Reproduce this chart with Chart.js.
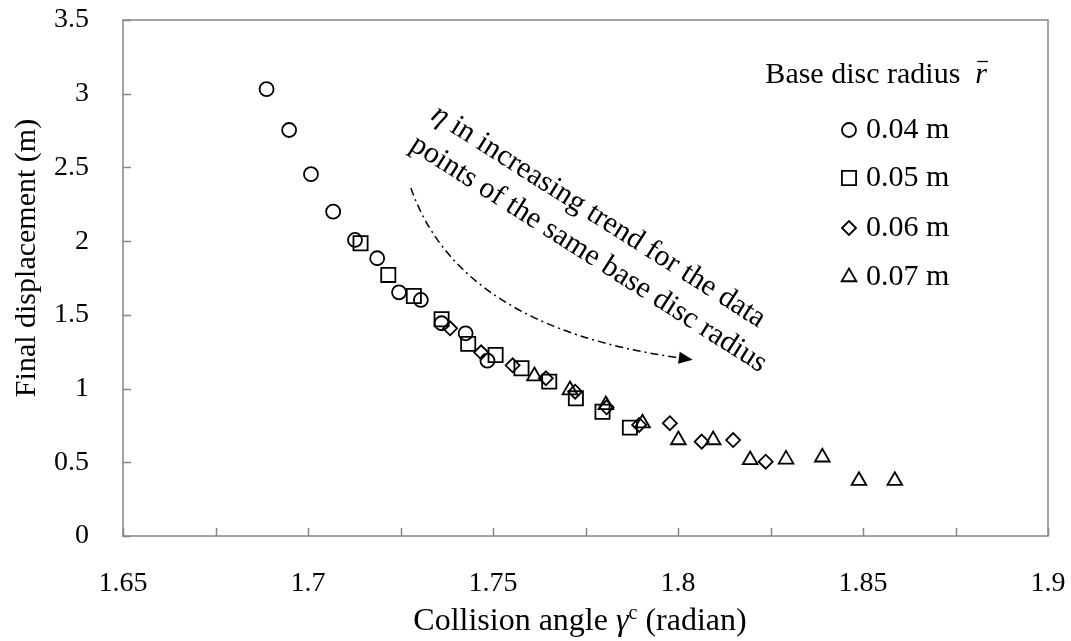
<!DOCTYPE html>
<html>
<head>
<meta charset="utf-8">
<title>Final displacement vs collision angle</title>
<script src="https://cdn.jsdelivr.net/npm/chart.js@4.4.1/dist/chart.umd.min.js"></script>
<style>
  html, body { margin: 0; padding: 0; background: #fff; }
</style>
</head>
<body>
<canvas id="scatterChart" width="1071" height="641"></canvas>
<script>
// ---------- Data ----------
const seriesLabels = ['0.04 m', '0.05 m', '0.06 m', '0.07 m']

const angle004 = [1.6888, 1.6949, 1.7008, 1.7068, 1.7127, 1.7187, 1.7246, 1.7305, 1.7361, 1.7426, 1.7485]
const disp004 = [3.031, 2.754, 2.454, 2.200, 2.008, 1.884, 1.653, 1.601, 1.443, 1.375, 1.189]

const angle005 = [1.7142, 1.7217, 1.7286, 1.7361, 1.7433, 1.7507, 1.7577, 1.7652, 1.7724, 1.7796, 1.7870]
const disp005 = [1.986, 1.771, 1.628, 1.470, 1.303, 1.228, 1.138, 1.047, 0.934, 0.843, 0.735]

const angle006 = [1.7384, 1.7468, 1.7553, 1.7643, 1.7722, 1.7807, 1.7895, 1.7978, 1.8064, 1.8149, 1.8237]
const disp006 = [1.409, 1.246, 1.158, 1.070, 0.979, 0.873, 0.753, 0.765, 0.640, 0.651, 0.504]

const angle007 = [1.7612, 1.7708, 1.7805, 1.7904, 1.8001, 1.8095, 1.8195, 1.8292, 1.8390, 1.8489, 1.8586]
const disp007 = [1.085, 0.990, 0.889, 0.765, 0.651, 0.651, 0.516, 0.520, 0.534, 0.375, 0.375]

const xTickStep = 0.025
const xLabelStep = 0.05
const yTickStep = 0.5

// ---------- Styles ----------
const serif = '"Liberation Serif", "Times New Roman", serif'
const tickSize = 28
const textSize = 30
const xTitleSize = 32
const axisGray = '#878787'
const markerStyles = [
    {pointStyle: 'circle', radius: 7},
    {pointStyle: 'rect', radius: 10},
    {pointStyle: 'rectRot', radius: 7},
    {pointStyle: 'triangle', radius: 8.5}
]

const toPoints = (xs, ys) => xs.map((x, i) => ({x: x, y: ys[i]}))
const allSeries = [
    toPoints(angle004, disp004),
    toPoints(angle005, disp005),
    toPoints(angle006, disp006),
    toPoints(angle007, disp007)
]

// draws a list of text runs [{text, font, dy}] as one line around (x, y)
function drawRuns(ctx, runs, x, y, align) {
    let total = 0
    runs.forEach((r) => {
        ctx.font = r.font
        r.w = ctx.measureText(r.text).width
        total += r.w
    })
    let cx = align === 'right' ? x - total : (align === 'left' ? x : x - total / 2)
    ctx.textAlign = 'left'
    ctx.textBaseline = 'middle'
    runs.forEach((r) => {
        ctx.font = r.font
        ctx.fillText(r.text, cx, y + (r.dy || 0))
        r.x = cx
        cx += r.w
    })
    return runs
}

// frame around the plot area and tick marks pointing inwards
const frameAndTicks = {
    id: 'frameAndTicks',
    beforeDatasetsDraw(chart) {
        const {ctx, chartArea: a, scales: {x, y}} = chart
        ctx.save()
        ctx.strokeStyle = axisGray
        ctx.lineWidth = 1.5
        ctx.strokeRect(a.left, a.top, a.right - a.left, a.bottom - a.top)
        ctx.beginPath()
        x.ticks.forEach((t) => {
            const px = Math.round(x.getPixelForValue(t.value)) + 0.5
            ctx.moveTo(px, a.bottom)
            ctx.lineTo(px, a.bottom - 8)
        })
        y.ticks.forEach((t) => {
            const py = Math.round(y.getPixelForValue(t.value)) + 0.5
            ctx.moveTo(a.left, py)
            ctx.lineTo(a.left + 8, py)
        })
        ctx.stroke()
        ctx.restore()
    }
}

// axis titles, legend and the trend annotation
const annotations = {
    id: 'annotations',
    afterDraw(chart) {
        const {ctx, chartArea: a, scales: {x, y}} = chart
        const normal = `${textSize}px ${serif}`
        const italic = `italic ${textSize}px ${serif}`
        ctx.save()
        ctx.fillStyle = '#000'

        // x axis title
        drawRuns(ctx, [
            {text: 'Collision angle ', font: `${xTitleSize}px ${serif}`},
            {text: 'γ', font: `italic ${xTitleSize}px ${serif}`},
            {text: 'c', font: `${Math.round(xTitleSize * 0.62)}px ${serif}`, dy: -8},
            {text: ' (radian)', font: `${xTitleSize}px ${serif}`}
        ], 580, 622, 'center')

        // y axis title
        ctx.save()
        ctx.translate(27, 258)
        ctx.rotate(-Math.PI / 2)
        drawRuns(ctx, [{text: 'Final displacement (m)', font: normal}], 0, 0, 'center')
        ctx.restore()

        // legend
        const titleRuns = drawRuns(ctx, [
            {text: 'Base disc radius  ', font: normal},
            {text: 'r', font: italic}
        ], a.right - 61, 75, 'right')
        const rRun = titleRuns[1]
        ctx.strokeStyle = '#000'
        ctx.lineWidth = 1.3
        ctx.beginPath()
        ctx.moveTo(rRun.x + 2, 61.5)
        ctx.lineTo(rRun.x + rRun.w + 1, 61.5)
        ctx.stroke()

        const rowY = [130, 178, 228, 277]
        seriesLabels.forEach((label, i) => {
            const m = markerStyles[i]
            ctx.lineWidth = 1.8
            ctx.strokeStyle = '#000'
            ctx.fillStyle = 'rgba(0,0,0,0)'
            Chart.helpers.drawPoint(ctx, {pointStyle: m.pointStyle, radius: m.radius, rotation: 0, borderWidth: 1.8}, 849, rowY[i])
            ctx.fillStyle = '#000'
            drawRuns(ctx, [{text: label, font: normal}], 866, rowY[i], 'left')
        })

        // rotated annotation text
        const ang = 32.5 * Math.PI / 180
        const lines = [
            {at: [1.7785, 2.166], runs: [
                {text: 'η', font: italic},
                {text: ' in increasing trend for the data', font: normal}
            ]},
            {at: [1.7758, 1.912], runs: [
                {text: 'points of the same base disc radius', font: normal}
            ]}
        ]
        lines.forEach((ln) => {
            ctx.save()
            ctx.translate(x.getPixelForValue(ln.at[0]), y.getPixelForValue(ln.at[1]))
            ctx.rotate(ang)
            drawRuns(ctx, ln.runs, 0, 0, 'center')
            ctx.restore()
        })

        // dash-dot curved arrow
        const p0 = [x.getPixelForValue(1.7278), y.getPixelForValue(2.361)]
        const c = [x.getPixelForValue(1.7409), y.getPixelForValue(1.415)]
        const p2 = [x.getPixelForValue(1.8005), y.getPixelForValue(1.208)]
        ctx.strokeStyle = '#000'
        ctx.lineWidth = 1.5
        ctx.setLineDash([8, 4, 2, 4])
        ctx.beginPath()
        ctx.moveTo(p0[0], p0[1])
        ctx.quadraticCurveTo(c[0], c[1], p2[0], p2[1])
        ctx.stroke()
        ctx.setLineDash([])
        const dir = Math.atan2(p2[1] - c[1], p2[0] - c[0])
        ctx.save()
        ctx.translate(p2[0], p2[1])
        ctx.rotate(dir)
        ctx.beginPath()
        ctx.moveTo(13, 0)
        ctx.lineTo(-1, -6)
        ctx.lineTo(-1, 6)
        ctx.closePath()
        ctx.fill()
        ctx.restore()

        ctx.restore()
    }
}

const isLabelTick = (v) => Math.abs(Math.round(v / xLabelStep) * xLabelStep - v) < 1e-6

const ctx = document.getElementById('scatterChart').getContext('2d')
const scatterChart = new Chart(ctx, {
    type: 'scatter',
    data: {
        datasets: allSeries.map((pts, i) => ({
            label: seriesLabels[i],
            data: pts,
            pointStyle: markerStyles[i].pointStyle,
            pointRadius: markerStyles[i].radius,
            pointHoverRadius: markerStyles[i].radius,
            borderColor: '#000',
            backgroundColor: 'rgba(0,0,0,0)',
            pointBorderWidth: 1.8,
            showLine: false
        }))
    },
    options: {
        responsive: false,
        animation: false,
        devicePixelRatio: 1,
        layout: {padding: {top: 20, right: 23, left: 0, bottom: 0}},
        plugins: {legend: {display: false}, tooltip: {enabled: false}},
        scales: {
            x: {
                type: 'linear', min: 1.65, max: 1.9,
                grid: {display: false},
                border: {display: false},
                // fixed height, and no extra room for the outer labels
                afterFit: (scale) => {
                    scale.height = 105
                    scale.paddingLeft = 0
                    scale.paddingRight = 0
                },
                ticks: {
                    stepSize: xTickStep, autoSkip: false, maxRotation: 0, padding: 23,
                    color: '#000', font: {family: serif, size: tickSize},
                    callback: (v) => isLabelTick(v) ? String(+v.toFixed(2)) : ''
                }
            },
            y: {
                type: 'linear', min: 0, max: 3.5,
                grid: {display: false},
                border: {display: false},
                afterFit: (scale) => {
                    scale.width = 123
                    scale.paddingTop = 0
                    scale.paddingBottom = 0
                },
                ticks: {
                    stepSize: yTickStep, padding: 26,
                    color: '#000', font: {family: serif, size: tickSize},
                    callback: (v) => String(+v.toFixed(1))
                }
            }
        }
    },
    plugins: [frameAndTicks, annotations]
})
</script>
</body>
</html>
